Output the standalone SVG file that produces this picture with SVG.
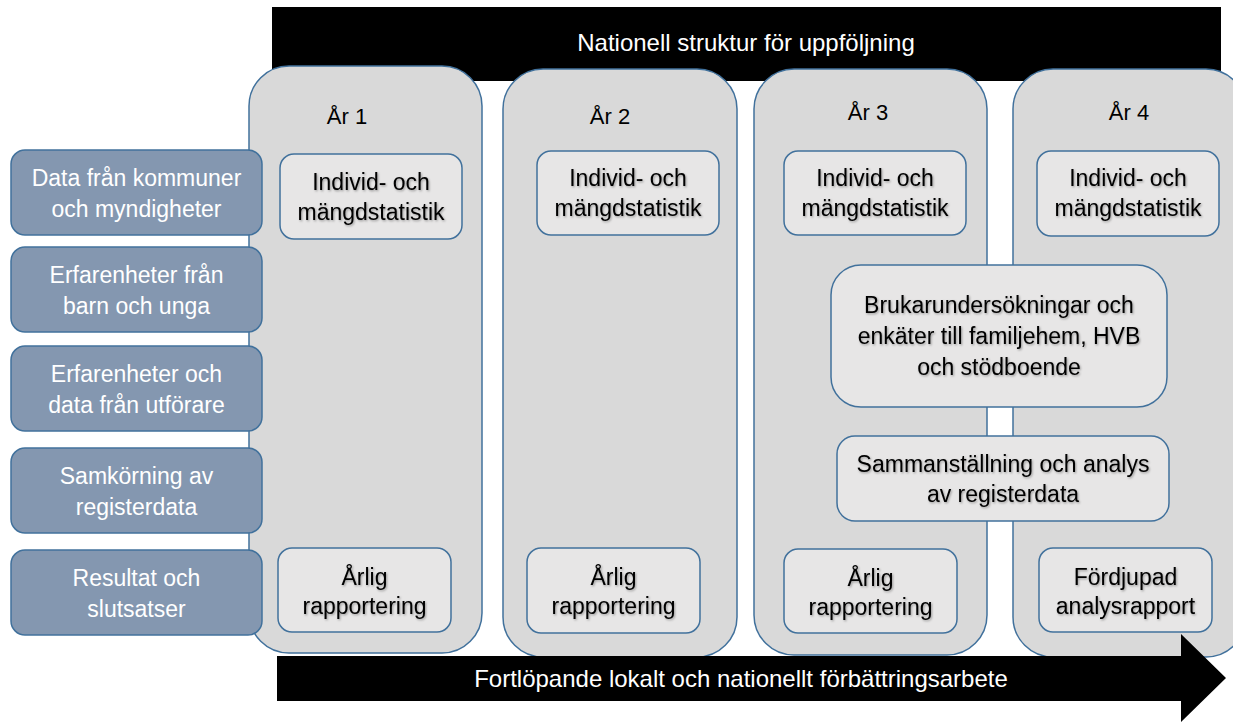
<svg xmlns="http://www.w3.org/2000/svg" width="1233" height="722" viewBox="0 0 1233 722">
<style>
text{font-family:"Liberation Sans",Arial,sans-serif;text-anchor:middle}
.col{fill:#d9d9d9;stroke:#41719c;stroke-width:1.5}
.lab{fill:#8497b0;stroke:#41719c;stroke-width:1.5}
.box{fill:#e7e6e6;stroke:#41719c;stroke-width:1.5}
.wt{fill:#ffffff;font-size:23px}
.bt{fill:#000000;font-size:23px;filter:url(#sh)}
.yr{fill:#000000;font-size:22px}
.bar{fill:#000000}
.bartxt{fill:#ffffff;font-size:24px}
</style>
<defs>
<filter id="sh" x="-10%" y="-30%" width="120%" height="160%">
<feDropShadow dx="1" dy="1.2" stdDeviation="0.8" flood-color="#000000" flood-opacity="0.35"/>
</filter>
</defs>
<rect width="1233" height="722" fill="#ffffff"/>
<g id="top-bar">
<rect class="bar" x="272" y="7" width="949" height="74"/>
<text class="bartxt" x="746" y="51">Nationell struktur för uppföljning</text>
</g>
<g id="col1"><rect class="col" x="249" y="66" width="233" height="587" rx="40"/><text class="yr" x="347" y="124">År 1</text></g>
<g id="col2"><rect class="col" x="503" y="69" width="234" height="588" rx="40"/><text class="yr" x="610" y="124">År 2</text></g>
<g id="col3"><rect class="col" x="754" y="69" width="233" height="586" rx="40"/><text class="yr" x="868" y="120">År 3</text></g>
<g id="col4"><rect class="col" x="1013" y="69" width="233" height="588" rx="40"/><text class="yr" x="1129" y="120">År 4</text></g>
<g id="label1"><rect class="lab" x="11" y="150" width="251" height="85" rx="14"/><text class="wt" x="136.5" y="186">Data från kommuner</text><text class="wt" x="136.5" y="217">och myndigheter</text></g>
<g id="label2"><rect class="lab" x="11" y="247" width="251" height="85" rx="14"/><text class="wt" x="136.5" y="283">Erfarenheter från</text><text class="wt" x="136.5" y="314">barn och unga</text></g>
<g id="label3"><rect class="lab" x="11" y="346" width="251" height="85" rx="14"/><text class="wt" x="136.5" y="382">Erfarenheter och</text><text class="wt" x="136.5" y="413">data från utförare</text></g>
<g id="label4"><rect class="lab" x="11" y="448" width="251" height="85" rx="14"/><text class="wt" x="136.5" y="484">Samkörning av</text><text class="wt" x="136.5" y="515">registerdata</text></g>
<g id="label5"><rect class="lab" x="11" y="550" width="251" height="85" rx="14"/><text class="wt" x="136.5" y="586">Resultat och</text><text class="wt" x="136.5" y="617">slutsatser</text></g>
<g id="stat1"><rect class="box" x="280" y="154" width="182" height="85" rx="14"/><text class="bt" x="371" y="190">Individ- och</text><text class="bt" x="371" y="220">mängdstatistik</text></g>
<g id="stat2"><rect class="box" x="537" y="151" width="182" height="84" rx="14"/><text class="bt" x="628" y="186">Individ- och</text><text class="bt" x="628" y="216">mängdstatistik</text></g>
<g id="stat3"><rect class="box" x="784" y="151" width="182" height="84" rx="14"/><text class="bt" x="875" y="186">Individ- och</text><text class="bt" x="875" y="216">mängdstatistik</text></g>
<g id="stat4"><rect class="box" x="1037" y="151" width="182" height="85" rx="14"/><text class="bt" x="1128" y="186">Individ- och</text><text class="bt" x="1128" y="216">mängdstatistik</text></g>
<g id="survey"><rect class="box" x="831" y="265" width="336" height="142" rx="30"/><text class="bt" x="999" y="313">Brukarundersökningar och</text><text class="bt" x="999" y="344">enkäter till familjehem, HVB</text><text class="bt" x="999" y="375">och stödboende</text></g>
<g id="register"><rect class="box" x="837" y="436" width="332" height="85" rx="18"/><text class="bt" x="1003" y="472">Sammanställning och analys</text><text class="bt" x="1003" y="502">av registerdata</text></g>
<g id="report1"><rect class="box" x="278" y="548" width="173" height="84" rx="14"/><text class="bt" x="364.5" y="585">Årlig</text><text class="bt" x="364.5" y="614">rapportering</text></g>
<g id="report2"><rect class="box" x="527" y="548" width="173" height="85" rx="14"/><text class="bt" x="613.5" y="585">Årlig</text><text class="bt" x="613.5" y="614">rapportering</text></g>
<g id="report3"><rect class="box" x="784" y="549" width="173" height="84" rx="14"/><text class="bt" x="870.5" y="586">Årlig</text><text class="bt" x="870.5" y="615">rapportering</text></g>
<g id="report4"><rect class="box" x="1039" y="548" width="173" height="84" rx="14"/><text class="bt" x="1125.5" y="585">Fördjupad</text><text class="bt" x="1125.5" y="614">analysrapport</text></g>
<g id="connectors">
<g id="bottom-arrow">
<polygon class="bar" points="277,656 1181,656 1181,634 1226,678 1181,722 1181,701 277,701"/>
<text class="bartxt" x="741" y="687">Fortlöpande lokalt och nationellt förbättringsarbete</text>
</g>
</g>
</svg>
